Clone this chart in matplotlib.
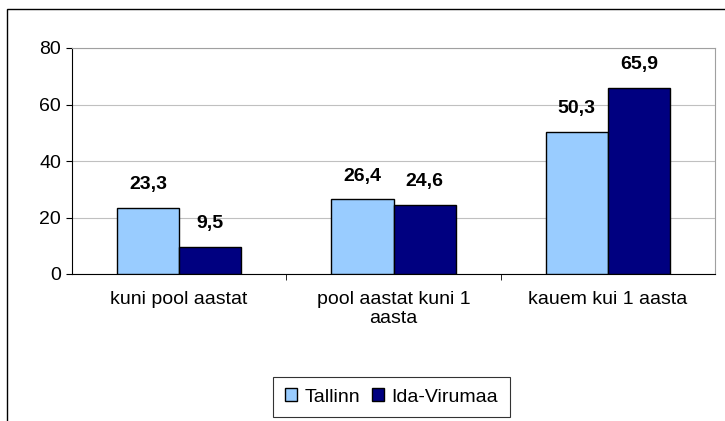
import numpy as np
import matplotlib.pyplot as plt
from matplotlib.patches import Rectangle

plt.rcParams['font.family'] = ['Liberation Sans', 'DejaVu Sans']

categories = ["kuni pool aastat", "pool aastat kuni 1\naasta", "kauem kui 1 aasta"]
tallinn = [23.3, 26.4, 50.3]
ida_virumaa = [9.5, 24.6, 65.9]
series_names = ["Tallinn", "Ida-Virumaa"]

fig = plt.figure(figsize=(7.25, 4.21), dpi=100)
# outer chart frame (left and top edges visible)
fig.add_artist(Rectangle((7 / 725, -0.05), 1.0, 1 - 9 / 421 + 0.05, transform=fig.transFigure,
                         fill=False, edgecolor='black', linewidth=1.0))

ax = fig.add_axes([72 / 725, 1 - 274 / 421, (715 - 72) / 725, (274 - 48) / 421])

x = np.arange(len(categories))
w = 0.29
b1 = ax.bar(x - w / 2, tallinn, w, color='#99CCFF', edgecolor='black', linewidth=1.0,
            label=series_names[0], zorder=3)
b2 = ax.bar(x + w / 2, ida_virumaa, w, color='#000080', edgecolor='black', linewidth=1.0,
            label=series_names[1], zorder=3)

for bars in (b1, b2):
    for rect in bars:
        h = rect.get_height()
        ax.annotate(f"{h:.1f}".replace('.', ','), (rect.get_x() + rect.get_width() / 2, h),
                    xytext=(0, 13.5), textcoords='offset points', ha='center', va='baseline',
                    fontsize=14, fontweight='bold')

ax.set_xlim(-0.5, 2.5)
ax.set_ylim(0, 80)
ax.set_yticks([0, 20, 40, 60, 80])
ax.tick_params(axis='y', labelsize=14, length=4, direction='out', pad=4)
ax.set_xticks(x)
ax.set_xticklabels(categories, fontsize=14, linespacing=1.2)
ax.tick_params(axis='x', length=0, pad=12)
ax.set_xticks([0.5, 1.5], minor=True)
ax.tick_params(axis='x', which='minor', length=4, direction='out')

ax.grid(axis='y', color='#c0c0c0', linewidth=0.8, zorder=0)
ax.spines['top'].set_color('#a0a0a0')
ax.spines['right'].set_color('#a0a0a0')
ax.spines['left'].set_color('black')
ax.spines['bottom'].set_color('black')

leg = fig.legend(loc='center', bbox_to_anchor=(391.5 / 725, 1 - 397 / 421), ncol=2,
                 fontsize=14, frameon=True, fancybox=False, edgecolor='black',
                 handlelength=0.6, handleheight=0.6, handletextpad=0.4, columnspacing=0.6,
                 borderpad=0.6, borderaxespad=0)
leg.get_frame().set_linewidth(0.8)

fig.savefig("out.png", dpi=100)
